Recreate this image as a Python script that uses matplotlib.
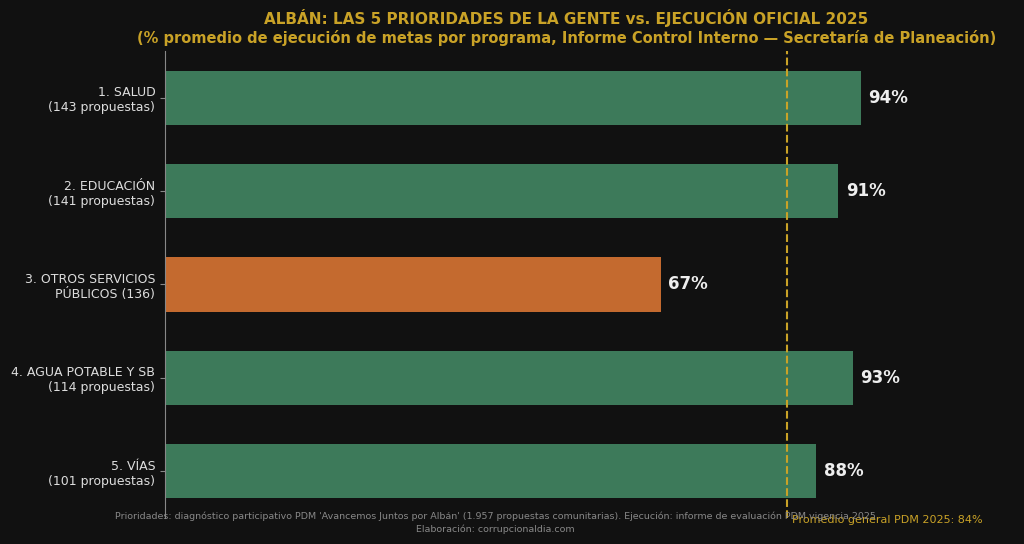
import matplotlib
matplotlib.use("Agg")
import matplotlib.pyplot as plt

labels = ["1. SALUD\n(143 propuestas)", "2. EDUCACIÓN\n(141 propuestas)", "3. OTROS SERVICIOS\nPÚBLICOS (136)",
          "4. AGUA POTABLE Y SB\n(114 propuestas)", "5. VÍAS\n(101 propuestas)"]
values = [94, 91, 67, 93, 88]
colors = ["#3d7a5a", "#3d7a5a", "#c46a2f", "#3d7a5a", "#3d7a5a"]
avg = 84

bg = "#111111"
fig = plt.figure(figsize=(10.24, 5.44), dpi=100, facecolor=bg)
ax = fig.add_axes([165/1024, 1-518/544, 851/1024, 467/544], facecolor=bg)
y = list(range(len(values)))
ax.barh(y, values, color=colors, height=0.58)
ax.set_ylim(4.5, -0.5)
ax.set_xlim(0, 115)
ax.set_yticks(y)
ax.set_yticklabels(labels, color="#dddddd", fontsize=9)
ax.set_xticks([])
for s in ["top", "right", "bottom"]:
    ax.spines[s].set_visible(False)
ax.spines["left"].set_color("#888888")
ax.tick_params(axis="y", colors="#888888", labelcolor="#dddddd")
for yi, v in zip(y, values):
    ax.text(v + 1, yi, f"{v}%", va="center", ha="left", color="#eeeeee", fontsize=12, fontweight="bold")
ax.axvline(avg, color="#c9a227", linestyle="--", linewidth=1.5)
fig.text(792/1024, 1-520/544, f"Promedio general PDM 2025: {avg}%", color="#c9a227", fontsize=8, va="center")
fig.text(0.553, 1-18/544, "ALBÁN: LAS 5 PRIORIDADES DE LA GENTE vs. EJECUCIÓN OFICIAL 2025",
         ha="center", va="center", color="#c9a227", fontsize=11, fontweight="bold")
fig.text(0.553, 1-38/544, "(% promedio de ejecución de metas por programa, Informe Control Interno — Secretaría de Planeación)",
         ha="center", va="center", color="#c9a227", fontsize=10.5, fontweight="bold")
fig.text(0.484, 1-516/544, "Prioridades: diagnóstico participativo PDM 'Avancemos Juntos por Albán' (1.957 propuestas comunitarias). Ejecución: informe de evaluación PDM vigencia 2025",
         ha="center", va="center", color="#888888", fontsize=6.8)
fig.text(0.484, 1-529/544, "Elaboración: corrupcionaldia.com", ha="center", va="center", color="#888888", fontsize=6.8)
fig.savefig("out.png", facecolor=bg)
